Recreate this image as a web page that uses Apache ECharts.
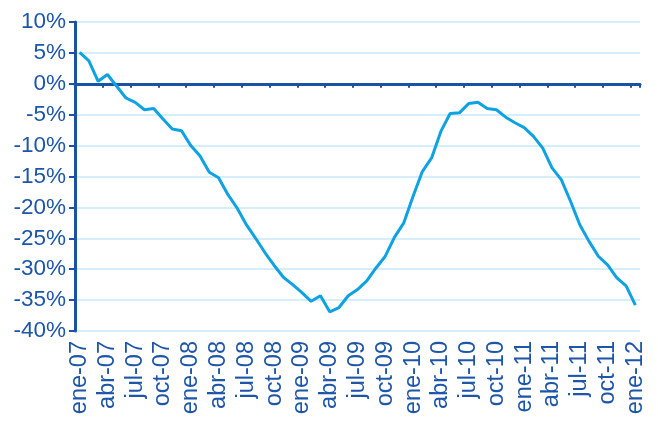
<!DOCTYPE html>
<html>
<head>
<meta charset="utf-8">
<script src="https://cdn.jsdelivr.net/npm/echarts@6/dist/echarts.min.js"></script>
<style>
html,body{margin:0;padding:0;background:#fff;}
#c{width:658px;height:421px;}
</style>
</head>
<body>
<div id="c"></div>
<script>
const yearLabels = ['07','08','09','10','11','12'];
const monthNames = ['ene','feb','mar','abr','may','jun','jul','ago','sep','oct','nov','dic'];
const categories = [];
for (let y = 0; y < yearLabels.length; y++) {
  for (let m = 0; m < 12; m++) {
    if (y === yearLabels.length - 1 && m > 0) break;
    categories.push(monthNames[m] + '-' + yearLabels[y]);
  }
}
const values = [
  5.1, 3.7, 0.4, 1.5, -0.4, -2.3, -3.0, -4.2, -4.0, -5.7, -7.3, -7.6,
  -10.0, -11.7, -14.3, -15.2, -17.9, -20.1, -22.8, -25.0, -27.3, -29.4, -31.3, -32.5,
  -33.8, -35.2, -34.3, -36.9, -36.2, -34.3, -33.3, -31.9, -29.8, -27.9, -24.8, -22.5,
  -18.2, -14.2, -12.0, -7.7, -4.8, -4.7, -3.2, -3.0, -4.0, -4.2, -5.4, -6.3,
  -7.1, -8.5, -10.4, -13.6, -15.5, -19.0, -22.8, -25.5, -27.9, -29.3, -31.4, -32.7,
  -35.8
];
const yMin = -40, yMax = 10, yStep = 5;

const dark = '#1b52a3';
const textColor = '#1d55a8';
const chart = echarts.init(document.getElementById('c'));
chart.setOption({
  animation: false,
  grid: {left: 75, right: 18, top: 22, bottom: 90},
  xAxis: [{
    type: 'category',
    data: categories,
    boundaryGap: true,
    position: 'bottom',
    axisLine: {show: false, onZero: false},
    axisTick: {show: false},
    axisLabel: {
      interval: 2, rotate: 90, margin: 10,
      fontFamily: 'Liberation Sans, Arial, sans-serif',
      fontSize: 23.5, color: textColor
    },
    splitLine: {show: false}
  }, {
    type: 'category',
    data: categories,
    boundaryGap: true,
    position: 'top',
    axisLine: {show: true, onZero: true, lineStyle: {color: dark, width: 3}},
    axisTick: {show: true, inside: true, interval: 2, length: 4, lineStyle: {color: dark, width: 2}},
    axisLabel: {show: false},
    splitLine: {show: false}
  }],
  yAxis: {
    type: 'value',
    min: yMin, max: yMax, interval: yStep,
    axisLine: {show: true, lineStyle: {color: dark, width: 3}},
    axisTick: {show: true, length: 6, lineStyle: {color: dark, width: 2}},
    axisLabel: {
      formatter: '{value}%', margin: 9,
      fontFamily: 'Liberation Sans, Arial, sans-serif',
      fontSize: 22.5, color: textColor
    },
    splitLine: {show: true, lineStyle: {color: '#c8e8f7', width: 1.5}}
  },
  series: [{
    type: 'line',
    xAxisIndex: 0,
    data: values,
    symbol: 'none',
    lineStyle: {color: '#0ea2e2', width: 3},
    z: 1
  }]
});
</script>
</body>
</html>
